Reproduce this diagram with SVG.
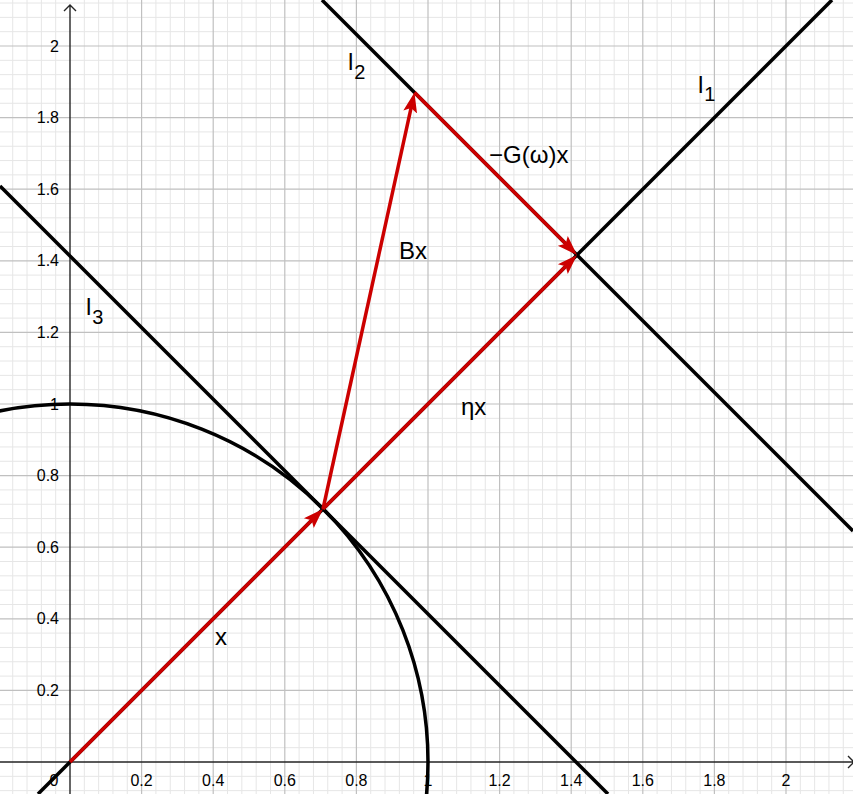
<svg xmlns="http://www.w3.org/2000/svg" width="853" height="794" viewBox="0 0 853 794">
<style>
.minor{stroke:#e6e6e6;stroke-width:1;fill:none}
.major{stroke:#c0c0c0;stroke-width:1.2;fill:none}
.axis{stroke:#252525;stroke-width:1.4;fill:none}
.tick{font-family:"Liberation Sans",Arial,sans-serif;font-size:16px;fill:#000}
.tx{text-anchor:middle}
.ty{text-anchor:end}
.blk{stroke:#000;stroke-width:3.5;fill:none}
.vec{stroke:#cc0000;stroke-width:3.5;fill:none;marker-end:url(#ah)}
.lab{font-family:"Liberation Sans",Arial,sans-serif;font-size:24px;fill:#000}
.sub{font-size:20px}
</style>
<defs>
<marker id="ah" markerUnits="userSpaceOnUse" viewBox="0 -8 20 16" refX="8" refY="0" markerWidth="20" markerHeight="16" orient="auto">
<path d="M0,-7 L20,0 L0,7 L4,0 Z" fill="#cc0000"/>
</marker>
</defs>
<rect width="853" height="794" fill="#fff"/>
<g id="grid">
<path class="minor" d="M12.72 0V794M27.04 0V794M41.36 0V794M55.68 0V794M84.32 0V794M98.64 0V794M112.96 0V794M127.28 0V794M155.92 0V794M170.24 0V794M184.56 0V794M198.88 0V794M227.52 0V794M241.84 0V794M256.16 0V794M270.48 0V794M299.12 0V794M313.44 0V794M327.76 0V794M342.08 0V794M370.72 0V794M385.04 0V794M399.36 0V794M413.68 0V794M442.32 0V794M456.64 0V794M470.96 0V794M485.28 0V794M513.92 0V794M528.24 0V794M542.56 0V794M556.88 0V794M585.52 0V794M599.84 0V794M614.16 0V794M628.48 0V794M657.12 0V794M671.44 0V794M685.76 0V794M700.08 0V794M728.72 0V794M743.04 0V794M757.36 0V794M771.68 0V794M800.32 0V794M814.64 0V794M828.96 0V794M843.28 0V794
M0 790.64H853M0 776.32H853M0 747.68H853M0 733.36H853M0 719.04H853M0 704.72H853M0 676.08H853M0 661.76H853M0 647.44H853M0 633.12H853M0 604.48H853M0 590.16H853M0 575.84H853M0 561.52H853M0 532.88H853M0 518.56H853M0 504.24H853M0 489.92H853M0 461.28H853M0 446.96H853M0 432.64H853M0 418.32H853M0 389.68H853M0 375.36H853M0 361.04H853M0 346.72H853M0 318.08H853M0 303.76H853M0 289.44H853M0 275.12H853M0 246.48H853M0 232.16H853M0 217.84H853M0 203.52H853M0 174.88H853M0 160.56H853M0 146.24H853M0 131.92H853M0 103.28H853M0 88.96H853M0 74.64H853M0 60.32H853M0 31.68H853M0 17.36H853M0 3.04H853"/>
<path class="major" d="M141.6 0V794M213.2 0V794M284.8 0V794M356.4 0V794M428 0V794M499.6 0V794M571.2 0V794M642.8 0V794M714.4 0V794M786 0V794
M0 690.4H853M0 618.8H853M0 547.2H853M0 475.6H853M0 404H853M0 332.4H853M0 260.8H853M0 189.2H853M0 117.6H853M0 46H853"/>
</g>
<g id="axes">
<path class="axis" d="M0 762H853M70 5V794M64 11L70 5L76 11M848 756L854 762L848 768"/>
</g>
<g id="ticks" class="tick">
<text class="tx" x="54" y="786">0</text>
<text class="tx" x="141.6" y="786">0.2</text>
<text class="tx" x="213.2" y="786">0.4</text>
<text class="tx" x="284.8" y="786">0.6</text>
<text class="tx" x="356.4" y="786">0.8</text>
<text class="tx" x="428" y="786">1</text>
<text class="tx" x="499.6" y="786">1.2</text>
<text class="tx" x="571.2" y="786">1.4</text>
<text class="tx" x="642.8" y="786">1.6</text>
<text class="tx" x="714.4" y="786">1.8</text>
<text class="tx" x="786" y="786">2</text>
<text class="ty" x="59" y="696">0.2</text>
<text class="ty" x="59" y="624.4">0.4</text>
<text class="ty" x="59" y="552.8">0.6</text>
<text class="ty" x="59" y="481.2">0.8</text>
<text class="ty" x="59" y="409.6">1</text>
<text class="ty" x="59" y="338">1.2</text>
<text class="ty" x="59" y="266.4">1.4</text>
<text class="ty" x="59" y="194.8">1.6</text>
<text class="ty" x="59" y="123.2">1.8</text>
<text class="ty" x="59" y="51.6">2</text>
</g>
<g id="circle"><circle class="blk" cx="70" cy="762" r="358"/></g>
<g id="l1"><line class="blk" x1="38" y1="794" x2="832" y2="0"/></g>
<g id="l2"><line class="blk" x1="322" y1="0" x2="853" y2="531"/></g>
<g id="l3"><line class="blk" x1="0" y1="186" x2="608" y2="794"/></g>
<g id="connectors">
<line class="vec" x1="70" y1="762" x2="314.5" y2="517.5"/>
<line class="vec" x1="323" y1="509" x2="568.5" y2="263.5"/>
<line class="vec" x1="323" y1="509" x2="411.9" y2="104.2"/>
<line class="vec" x1="414.5" y1="92.5" x2="568.5" y2="246.5"/>
</g>
<g id="labels" class="lab">
<text x="698" y="93">l<tspan class="sub" dx="1" dy="8">1</tspan></text>
<text x="348" y="70">l<tspan class="sub" dx="1" dy="9">2</tspan></text>
<text x="86" y="315">l<tspan class="sub" dx="1" dy="9">3</tspan></text>
<text x="399" y="259">Bx</text>
<text x="489" y="163">−G(ω)x</text>
<text x="461" y="415">ηx</text>
<text x="215" y="645">x</text>
</g>
</svg>
